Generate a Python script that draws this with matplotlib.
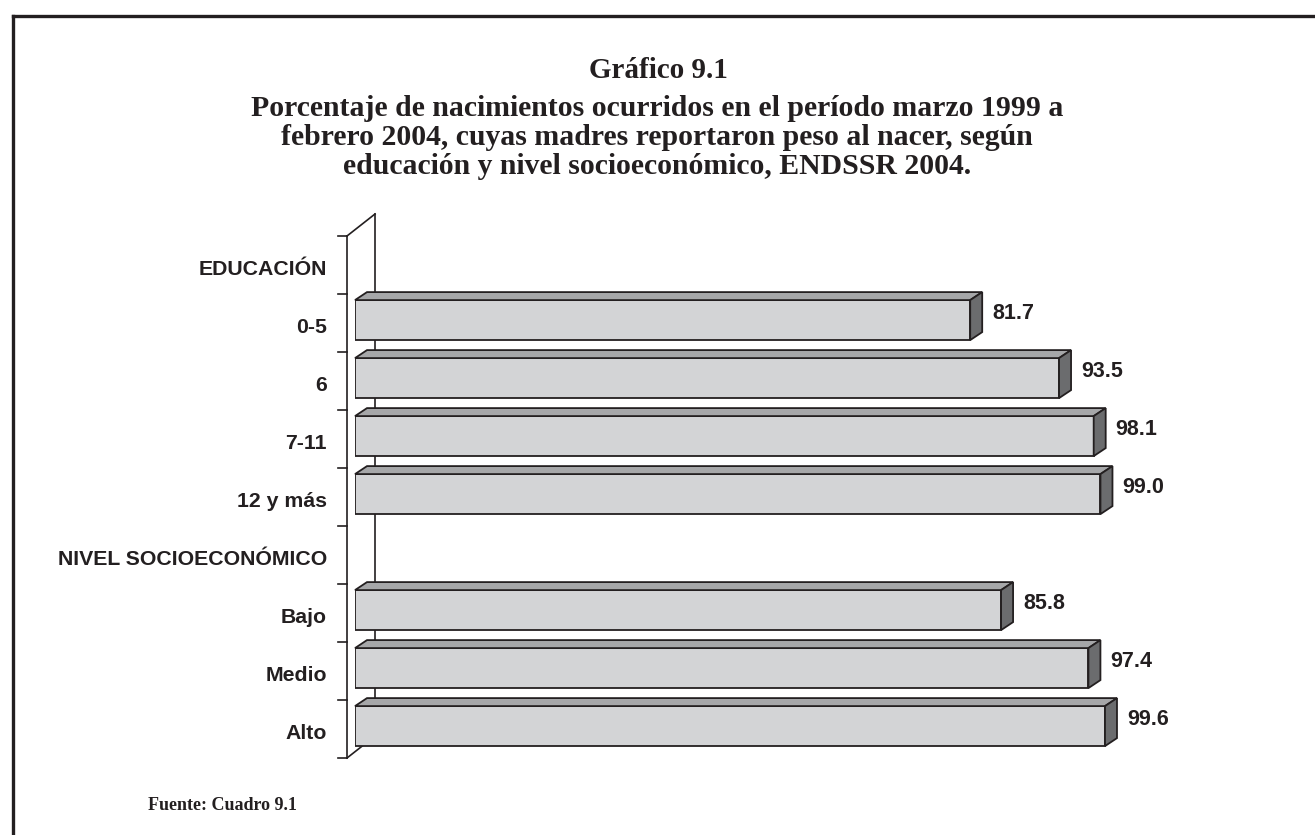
import matplotlib
matplotlib.use("Agg")
import matplotlib.pyplot as plt
from matplotlib.lines import Line2D

# datos
categorias = ["EDUCACIÓN", "0-5", "6", "7-11", "12 y más",
              "NIVEL SOCIOECONÓMICO", "Bajo", "Medio", "Alto"]
valores = [None, 81.7, 93.5, 98.1, 99.0, None, 85.8, 97.4, 99.6]

titulo = "Gráfico 9.1"
subtitulo = ["Porcentaje de nacimientos ocurridos en el período marzo 1999 a",
             "febrero 2004, cuyas madres reportaron peso al nacer, según",
             "educación y nivel socioeconómico, ENDSSR 2004."]
fuente = "Fuente: Cuadro 9.1"

W, H = 1315, 835
fig = plt.figure(figsize=(W / 100, H / 100), dpi=100)

# escala: 7.53 px por unidad, 58 px por categoria
px_x = 7.53
px_y = 58.0
x0, ytop = 355, 236
ax = fig.add_axes([x0 / W, (H - (ytop + 9 * px_y)) / H, 900 / W, 9 * px_y / H])
ax.set_xlim(0, 900 / px_x)
ax.set_ylim(8.5, -0.5)
ax.axis("off")

borde = "#231f20"
c_frente = "#d3d4d6"
c_arriba = "#a6a7a9"
c_lado = "#6b6c6e"

# profundidad de las barras
dx = 12 / px_x
dy = 8 / px_y
h = 20 / px_y

# paredes del eje (efecto 3D)
fx = -8 / px_x
bx = 20 / px_x
by = 22 / px_y
ax.plot([fx, fx], [-0.5, 8.5], color=borde, lw=1.2, clip_on=False, zorder=1)
ax.plot([fx, bx], [-0.5, -0.5 - by], color=borde, lw=1.2, clip_on=False, zorder=1)
ax.plot([bx, bx], [-0.5 - by, 8.5 - by], color=borde, lw=1.2, clip_on=False, zorder=1)
ax.plot([fx, bx], [8.5, 8.5 - by], color=borde, lw=1.2, clip_on=False, zorder=1)
for k in range(10):
    yk = k - 0.5
    ax.plot([fx - 9 / px_x, fx], [yk, yk], color=borde, lw=1.2, clip_on=False, zorder=1)

for i, (cat, v) in enumerate(zip(categorias, valores)):
    ax.text(-28 / px_x, i + 0.08, cat, ha="right", va="center",
            fontsize=15.3, fontweight="bold", family="Liberation Sans",
            color=borde)
    if v is None:
        continue
    c = i - 0.05
    ax.barh(c, v, height=2 * h, left=0, color=c_frente, edgecolor=borde,
            linewidth=1.3, zorder=3)
    ax.fill([0, v, v + dx, dx], [c - h, c - h, c - h - dy, c - h - dy],
            facecolor=c_arriba, edgecolor=borde, linewidth=1.3, zorder=3,
            clip_on=False)
    ax.fill([v, v + dx, v + dx, v], [c - h, c - h - dy, c + h - dy, c + h],
            facecolor=c_lado, edgecolor=borde, linewidth=1.3, zorder=3,
            clip_on=False)
    ax.text(v + 22 / px_x, i - 0.17, f"{v:.1f}", ha="left", va="center",
            fontsize=15.5, fontweight="bold", family="Liberation Sans",
            color=borde)

# titulos
fig.text(658 / W, 1 - 70 / H, titulo, ha="center", va="center",
         fontsize=21, fontweight="bold", family="Liberation Serif", color=borde)
for j, linea in enumerate(subtitulo):
    fig.text(657 / W, 1 - (108 + 29.5 * j) / H, linea, ha="center", va="center",
             fontsize=21.4, fontweight="bold", family="Liberation Serif",
             color=borde)
fig.text(148 / W, 1 - 806 / H, fuente, ha="left", va="center",
         fontsize=13, fontweight="bold", family="Liberation Serif", color=borde)

# marco (solo izquierda y arriba visibles)
fig.add_artist(Line2D([13 / W, 13 / W], [0, 1 - 16 / H], color=borde, lw=2.4,
                      transform=fig.transFigure))
fig.add_artist(Line2D([13 / W, 1], [1 - 16 / H, 1 - 16 / H], color=borde, lw=2.4,
                      transform=fig.transFigure))

fig.savefig("out.png", dpi=100)
